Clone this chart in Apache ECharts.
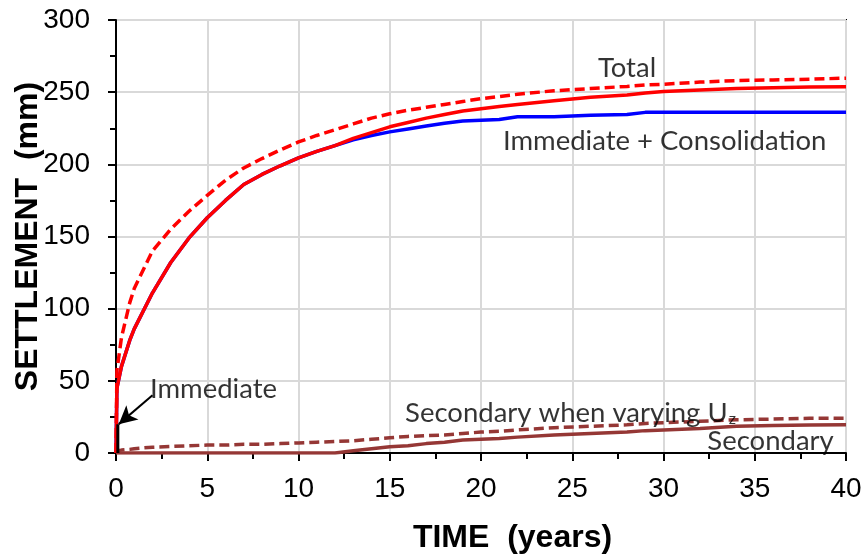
<!DOCTYPE html>
<html>
<head>
<meta charset="utf-8">
<script src="https://cdn.jsdelivr.net/npm/echarts@6/dist/echarts.min.js"></script>
<style>
  html, body { margin: 0; padding: 0; background: #fff; }
  #chart { width: 863px; height: 556px; }
</style>
</head>
<body>
<div id="chart"></div>
<script>
// time in years, shared by all curves
var years = [0, 0.05, 0.3, 0.75, 1, 2, 3, 4, 5, 6, 7, 8, 9, 10, 11, 12, 13, 14, 15, 16, 17, 18, 19, 20, 21, 22, 24, 26, 28, 29, 30, 32, 34, 36, 38, 40];

var immConsol = [0, 45, 60, 78, 86, 111, 132, 149, 163, 175, 186, 193, 199, 204.5,
  209, 213, 217, 220, 222.5, 224.5, 226.5, 228.5, 230, 230.5, 231, 233,
  233, 234, 234.5, 236, 236, 236, 236, 236, 236, 236];

var totalSolid = [0, 45, 60, 78, 86, 111, 132, 149, 163, 175, 186, 193, 199, 204.5,
  209, 213, 218, 222, 226, 229, 232, 234.5, 237, 238.5, 240, 241.5,
  244, 246.5, 248, 249.5, 250.5, 251.5, 252.5, 253, 253.5, 253.8];

var totalDashed = [0, 57, 80, 104, 114, 140, 155, 167.5, 178.5, 189, 197.5, 204, 210, 215.5,
  220, 224, 228, 232, 235, 237.5, 239.5, 241.5, 243.5, 245.5, 247, 248.5,
  251, 252.5, 254, 255, 255.5, 257, 258, 258.5, 259, 259.7];

var secondary = [0, 0, 0, 0, 0, 0, 0, 0, 0, 0, 0, 0, 0, 0, 0, 0,
  1.5, 3, 4.4, 5, 6.5, 7.5, 9, 9.5, 10, 11,
  12.5, 13.5, 14.5, 15.5, 16, 17, 18.5, 19, 19.4, 19.5];

var secondaryUz = [0, 1.5, 2, 2.5, 3, 4, 4.5, 5, 5.5, 5.5, 6, 6, 6.5, 7,
  7.5, 8, 8.5, 9.5, 10.5, 11.5, 12, 12.5, 13.5, 14.5, 15, 16,
  17.5, 18.5, 19.5, 20.5, 21, 22, 23, 23.5, 24, 24];

// immediate settlement drawn as a short bar at the start
var immTime = [0.1, 0.1];
var immValue = [0, 20];

// arrow from label to immediate settlement
var arrowFrom = [2.0, 40];
var arrowTo = [0.15, 20];

var labels = [
  { name: 'Total', pos: [28, 267], align: 'center' },
  { name: 'Immediate + Consolidation', pos: [21.2, 216], align: 'left' },
  { name: 'Immediate', pos: [1.86, 44.5], align: 'left' },
  { name: '{t|Secondary when varying U}{s|z}', pos: [15.84, 27.5], align: 'left' },
  { name: 'Secondary', pos: [32.4, 8], align: 'left' }
];

function pairs(xs, ys) {
  return xs.map(function (x, i) { return [x, ys[i]]; });
}

var annoFont = 'Lato';
var annoSize = 27.5;

var chart = echarts.init(document.getElementById('chart'));
chart.setOption({
  animation: false,
  backgroundColor: '#fff',
  grid: {
    left: 116, right: 17, top: 20, bottom: 103,
    outerBoundsMode: 'none',
    containLabel: false,
    show: true, borderColor: '#000', borderWidth: 2
  },
  xAxis: {
    type: 'value', min: 0, max: 40, interval: 5,
    name: 'TIME  (years)',
    nameLocation: 'middle',
    nameGap: 69,
    nameMoveOverlap: false,
    nameTextStyle: { fontFamily: 'Liberation Sans', fontWeight: 'bold', fontSize: 32, color: '#000', padding: [0, 0, 0, 63] },
    axisLine: { lineStyle: { color: '#000', width: 2 } },
    axisTick: { show: true, inside: false, length: 8, lineStyle: { color: '#000', width: 2 } },
    minorTick: { show: true, splitNumber: 2, length: 6, lineStyle: { color: '#000', width: 2 } },
    axisLabel: { fontFamily: 'Liberation Sans', fontSize: 28, color: '#000', margin: 22 },
    splitLine: { show: true, lineStyle: { color: '#d9d9d9', width: 2 } }
  },
  yAxis: {
    type: 'value', min: 0, max: 300, interval: 50,
    name: 'SETTLEMENT  (mm)',
    nameLocation: 'middle',
    nameGap: 72,
    nameMoveOverlap: false,
    nameTextStyle: { fontFamily: 'Liberation Sans', fontWeight: 'bold', fontSize: 32, color: '#000' },
    axisLine: { lineStyle: { color: '#000', width: 2 } },
    axisTick: { show: true, inside: false, length: 8, lineStyle: { color: '#000', width: 2 } },
    minorTick: { show: true, splitNumber: 2, length: 6, lineStyle: { color: '#000', width: 2 } },
    axisLabel: { fontFamily: 'Liberation Sans', fontSize: 28, color: '#000', margin: 26 },
    splitLine: { show: true, lineStyle: { color: '#d9d9d9', width: 2 } }
  },
  series: [
    {
      name: 'Secondary when varying Uz', type: 'line', showSymbol: false,
      data: pairs(years, secondaryUz),
      lineStyle: { color: '#953735', width: 3.5, type: [10, 5] }
    },
    {
      name: 'Secondary', type: 'line', showSymbol: false,
      data: pairs(years, secondary),
      lineStyle: { color: '#953735', width: 3.5 }
    },
    {
      name: 'Immediate + Consolidation', type: 'line', showSymbol: false,
      data: pairs(years, immConsol),
      lineStyle: { color: '#0000ff', width: 3.5 }
    },
    {
      name: 'Total', type: 'line', showSymbol: false,
      data: pairs(years, totalSolid),
      lineStyle: { color: '#ff0000', width: 3.5 }
    },
    {
      name: 'Total varying Uz', type: 'line', showSymbol: false,
      data: pairs(years, totalDashed),
      lineStyle: { color: '#ff0000', width: 3.5, type: [10, 5] }
    },
    {
      name: 'Immediate', type: 'line', showSymbol: false,
      data: pairs(immTime, immValue),
      lineStyle: { color: '#000', width: 3 },
      markLine: {
        silent: true,
        symbol: ['none', 'arrow'],
        symbolSize: [14, 18],
        label: { show: false },
        lineStyle: { color: '#000', width: 2, type: 'solid' },
        data: [[{ coord: arrowFrom }, { coord: arrowTo }]]
      }
    },
    {
      name: 'labels', type: 'scatter', symbolSize: 0, silent: true, z: 10,
      data: labels.map(function (l) {
        return {
          value: l.pos,
          label: {
            show: true, position: 'inside', align: l.align, verticalAlign: 'middle',
            formatter: l.name,
            fontFamily: annoFont, fontSize: annoSize, color: '#000',
            rich: {
              t: { fontFamily: annoFont, fontSize: annoSize, color: '#000' },
              s: { fontFamily: annoFont, fontSize: 16, color: '#000', padding: [12, 0, 0, 1] }
            }
          }
        };
      })
    }
  ]
});
</script>
</body>
</html>
